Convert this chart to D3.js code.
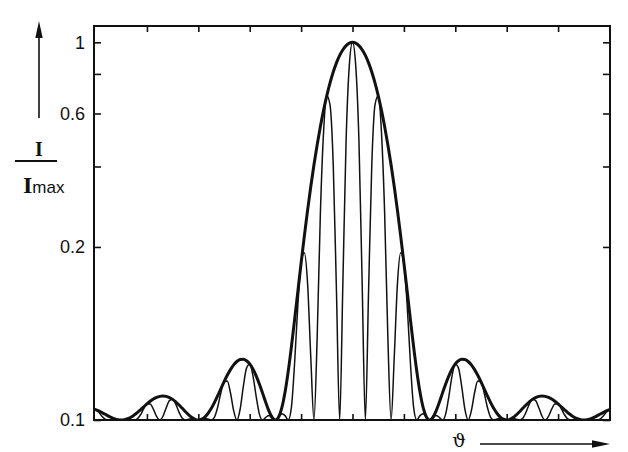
<!DOCTYPE html>
<html>
<head>
<meta charset="utf-8">
<script src="https://cdn.jsdelivr.net/npm/d3@7"></script>
<style>
  html, body { margin: 0; padding: 0; background: #fff; }
  svg { display: block; }
</style>
</head>
<body>
<svg id="chart" width="628" height="452"></svg>
<script>
// ---- data ----
// diffraction angle samples (tick units)
const theta = [
  -5.0625,-5,
  -4.9375,-4.875,-4.8125,-4.75,-4.6875,-4.625,-4.5625,-4.5,
  -4.4375,-4.375,-4.3125,-4.25,-4.1875,-4.125,-4.0625,-4,
  -3.9375,-3.875,-3.8125,-3.75,-3.6875,-3.625,-3.5625,-3.5,
  -3.4375,-3.375,-3.3125,-3.25,-3.1875,-3.125,-3.0625,-3,
  -2.9375,-2.875,-2.8125,-2.75,-2.6875,-2.625,-2.5625,-2.5,
  -2.4375,-2.375,-2.3125,-2.25,-2.1875,-2.125,-2.0625,-2,
  -1.9375,-1.875,-1.8125,-1.75,-1.6875,-1.625,-1.5625,-1.5,
  -1.4375,-1.375,-1.3125,-1.25,-1.1875,-1.125,-1.0625,-1,
  -0.9375,-0.875,-0.8125,-0.75,-0.6875,-0.625,-0.5625,-0.5,
  -0.4375,-0.375,-0.3125,-0.25,-0.1875,-0.125,-0.0625,0,
  0.0625,0.125,0.1875,0.25,0.3125,0.375,0.4375,0.5,
  0.5625,0.625,0.6875,0.75,0.8125,0.875,0.9375,1,
  1.0625,1.125,1.1875,1.25,1.3125,1.375,1.4375,1.5,
  1.5625,1.625,1.6875,1.75,1.8125,1.875,1.9375,2,
  2.0625,2.125,2.1875,2.25,2.3125,2.375,2.4375,2.5,
  2.5625,2.625,2.6875,2.75,2.8125,2.875,2.9375,3,
  3.0625,3.125,3.1875,3.25,3.3125,3.375,3.4375,3.5,
  3.5625,3.625,3.6875,3.75,3.8125,3.875,3.9375,4,
  4.0625,4.125,4.1875,4.25,4.3125,4.375,4.4375,4.5,
  4.5625,4.625,4.6875,4.75,4.8125,4.875,4.9375,5,
  5.0625
];

// single-slit envelope (thick curve), I / Imax
const envelope = [
  0.0076,0.0068,
  0.0059,0.0048,0.0037,0.0025,0.0015,0.0007,0.0002,0,
  0.0002,0.0008,0.0018,0.0032,0.0048,0.0067,0.0087,0.0107,
  0.0126,0.0142,0.0154,0.0162,0.0165,0.0162,0.0153,0.0140,
  0.0121,0.0100,0.0077,0.0054,0.0033,0.0016,0.0004,0,
  0.0005,0.0019,0.0042,0.0075,0.0117,0.0165,0.0219,0.0274,
  0.0328,0.0377,0.0419,0.0450,0.0468,0.0471,0.0457,0.0428,
  0.0382,0.0324,0.0257,0.0186,0.0117,0.0058,0.0016,0,
  0.0019,0.0081,0.0194,0.0365,0.0599,0.0901,0.1271,0.1710,
  0.2214,0.2778,0.3395,0.4053,0.4741,0.5445,0.6150,0.6839,
  0.7497,0.8106,0.8651,0.9119,0.9496,0.9774,0.9943,1,
  0.9943,0.9774,0.9496,0.9119,0.8651,0.8106,0.7497,0.6839,
  0.6150,0.5445,0.4741,0.4053,0.3395,0.2778,0.2214,0.1710,
  0.1271,0.0901,0.0599,0.0365,0.0194,0.0081,0.0019,0,
  0.0016,0.0058,0.0117,0.0186,0.0257,0.0324,0.0382,0.0428,
  0.0457,0.0471,0.0468,0.0450,0.0419,0.0377,0.0328,0.0274,
  0.0219,0.0165,0.0117,0.0075,0.0042,0.0019,0.0005,0,
  0.0004,0.0016,0.0033,0.0054,0.0077,0.0100,0.0121,0.0140,
  0.0153,0.0162,0.0165,0.0162,0.0154,0.0142,0.0126,0.0107,
  0.0087,0.0067,0.0048,0.0032,0.0018,0.0008,0.0002,0,
  0.0002,0.0007,0.0015,0.0025,0.0037,0.0048,0.0059,0.0068,
  0.0076
];

// interference pattern (thin curve), I / Imax
const intensity = [
  0.0065,0.0068,
  0.0050,0.0024,0.0005,0,0.0002,0.0004,0.0002,0,
  0.0002,0.0004,0.0003,0,0.0007,0.0034,0.0074,0.0107,
  0.0107,0.0071,0.0023,0,0.0024,0.0081,0.0131,0.0140,
  0.0104,0.0050,0.0011,0,0.0005,0.0008,0.0003,0,
  0.0004,0.0009,0.0006,0,0.0017,0.0083,0.0187,0.0274,
  0.0280,0.0189,0.0061,0,0.0069,0.0236,0.0390,0.0428,
  0.0326,0.0162,0.0038,0,0.0017,0.0029,0.0014,0,
  0.0016,0.0040,0.0028,0,0.0088,0.0450,0.1085,0.1710,
  0.1890,0.1389,0.0497,0,0.0694,0.2723,0.5249,0.6839,
  0.6399,0.4053,0.1267,0,0.1391,0.4887,0.8487,1,
  0.8487,0.4887,0.1391,0,0.1267,0.4053,0.6399,0.6839,
  0.5249,0.2723,0.0694,0,0.0497,0.1389,0.1890,0.1710,
  0.1085,0.0450,0.0088,0,0.0028,0.0040,0.0016,0,
  0.0014,0.0029,0.0017,0,0.0038,0.0162,0.0326,0.0428,
  0.0390,0.0236,0.0069,0,0.0061,0.0189,0.0280,0.0274,
  0.0187,0.0083,0.0017,0,0.0006,0.0009,0.0004,0,
  0.0003,0.0008,0.0005,0,0.0011,0.0050,0.0104,0.0140,
  0.0131,0.0081,0.0024,0,0.0023,0.0071,0.0107,0.0107,
  0.0074,0.0034,0.0007,0,0.0003,0.0004,0.0002,0,
  0.0002,0.0004,0.0002,0,0.0005,0.0024,0.0050,0.0068,
  0.0065
];

// axis ticks
const xTickValues = [-4, -3, -2, -1, 0, 1, 2, 3, 4];
const yTickValues = [0, 0.2, 0.4, 0.6, 0.8, 1];
const yTickLabels = ["0.1", "0.2", "", "0.6", "", "1"];
const yOffset = 0.1;   // the vertical axis is logarithmic in (I/Imax + 0.1)

// ---- layout ----
const plot = { left: 94, right: 610, top: 26, bottom: 420 };
const svg = d3.select("#chart");

const x = d3.scaleLinear().domain([-5.03, 5.01]).range([plot.left, plot.right]);
const yLog = d3.scaleLog().domain([0.1, 1.22]).range([plot.bottom, plot.top]);
const Y = v => yLog(v + yOffset);

svg.append("defs").append("clipPath").attr("id", "clip")
  .append("rect")
  .attr("x", plot.left).attr("y", plot.top - 2)
  .attr("width", plot.right - plot.left).attr("height", plot.bottom - plot.top + 2);

const fontSans = "'Liberation Sans', Arial, Helvetica, sans-serif";
const fontSerif = "'Liberation Serif', 'Times New Roman', serif";

// curves
const line = d3.line()
  .x(d => x(d[0]))
  .y(d => Y(d[1]))
  .curve(d3.curveMonotoneX);

const g = svg.append("g").attr("clip-path", "url(#clip)");
g.append("path")
  .datum(theta.map((t, i) => [t, intensity[i]]))
  .attr("d", line)
  .attr("fill", "none")
  .attr("stroke", "#111")
  .attr("stroke-width", 1.5)
  .attr("stroke-linejoin", "round");
g.append("path")
  .datum(theta.map((t, i) => [t, envelope[i]]))
  .attr("d", line)
  .attr("fill", "none")
  .attr("stroke", "#111")
  .attr("stroke-width", 3)
  .attr("stroke-linejoin", "round");

// axes (ticks pointing inwards)
function styleAxis(sel) {
  sel.select(".domain").remove();
  sel.selectAll(".tick line").attr("stroke", "#111").attr("stroke-width", 1.6);
  sel.selectAll(".tick text")
    .attr("fill", "#111")
    .style("font-family", fontSans)
    .style("font-size", "18px");
}
const yTickPos = yTickValues.map(v => v + yOffset);

svg.append("g")
  .attr("transform", `translate(${plot.left},0)`)
  .call(d3.axisLeft(yLog).tickValues(yTickPos)
    .tickFormat((d, i) => yTickLabels[i])
    .tickSizeInner(-7).tickSizeOuter(0).tickPadding(9))
  .call(styleAxis);

svg.append("g")
  .attr("transform", `translate(${plot.right},0)`)
  .call(d3.axisRight(yLog).tickValues(yTickPos)
    .tickFormat("").tickSizeInner(-7).tickSizeOuter(0))
  .call(styleAxis);

svg.append("g")
  .attr("transform", `translate(0,${plot.bottom})`)
  .call(d3.axisBottom(x).tickValues(xTickValues)
    .tickFormat("").tickSizeInner(-6).tickSizeOuter(0))
  .call(styleAxis);

svg.append("g")
  .attr("transform", `translate(0,${plot.top})`)
  .call(d3.axisTop(x).tickValues(xTickValues)
    .tickFormat("").tickSizeInner(-6).tickSizeOuter(0))
  .call(styleAxis);

// frame
svg.append("rect")
  .attr("x", plot.left).attr("y", plot.top)
  .attr("width", plot.right - plot.left).attr("height", plot.bottom - plot.top)
  .attr("fill", "none").attr("stroke", "#111").attr("stroke-width", 2);

// y-axis title: arrow and I / Imax
svg.append("line")
  .attr("x1", 39).attr("y1", 118).attr("x2", 39).attr("y2", 34)
  .attr("stroke", "#111").attr("stroke-width", 1.6);
svg.append("path")
  .attr("d", "M39,21 L35.3,38 L42.7,38 Z")
  .attr("fill", "#111");

svg.append("text")
  .attr("x", 39).attr("y", 156)
  .attr("text-anchor", "middle")
  .style("font-family", fontSerif).style("font-weight", "bold").style("font-size", "20px")
  .attr("fill", "#111")
  .text("I");
svg.append("line")
  .attr("x1", 15).attr("y1", 161).attr("x2", 57).attr("y2", 161)
  .attr("stroke", "#111").attr("stroke-width", 2);
const den = svg.append("text")
  .attr("x", 23).attr("y", 193)
  .attr("fill", "#111");
den.append("tspan")
  .style("font-family", fontSerif).style("font-weight", "bold").style("font-size", "24px")
  .text("I");
den.append("tspan")
  .style("font-family", fontSans).style("font-size", "17px")
  .text("max");

// x-axis title: theta and arrow
svg.append("text")
  .attr("x", 459).attr("y", 447)
  .attr("text-anchor", "middle")
  .style("font-family", "'DejaVu Serif', serif").style("font-size", "19px")
  .attr("fill", "#111")
  .text("ϑ");
svg.append("line")
  .attr("x1", 480).attr("y1", 444).attr("x2", 596).attr("y2", 444)
  .attr("stroke", "#111").attr("stroke-width", 1.6);
svg.append("path")
  .attr("d", "M610,444 L592,440.3 L592,447.7 Z")
  .attr("fill", "#111");
</script>
</body>
</html>
